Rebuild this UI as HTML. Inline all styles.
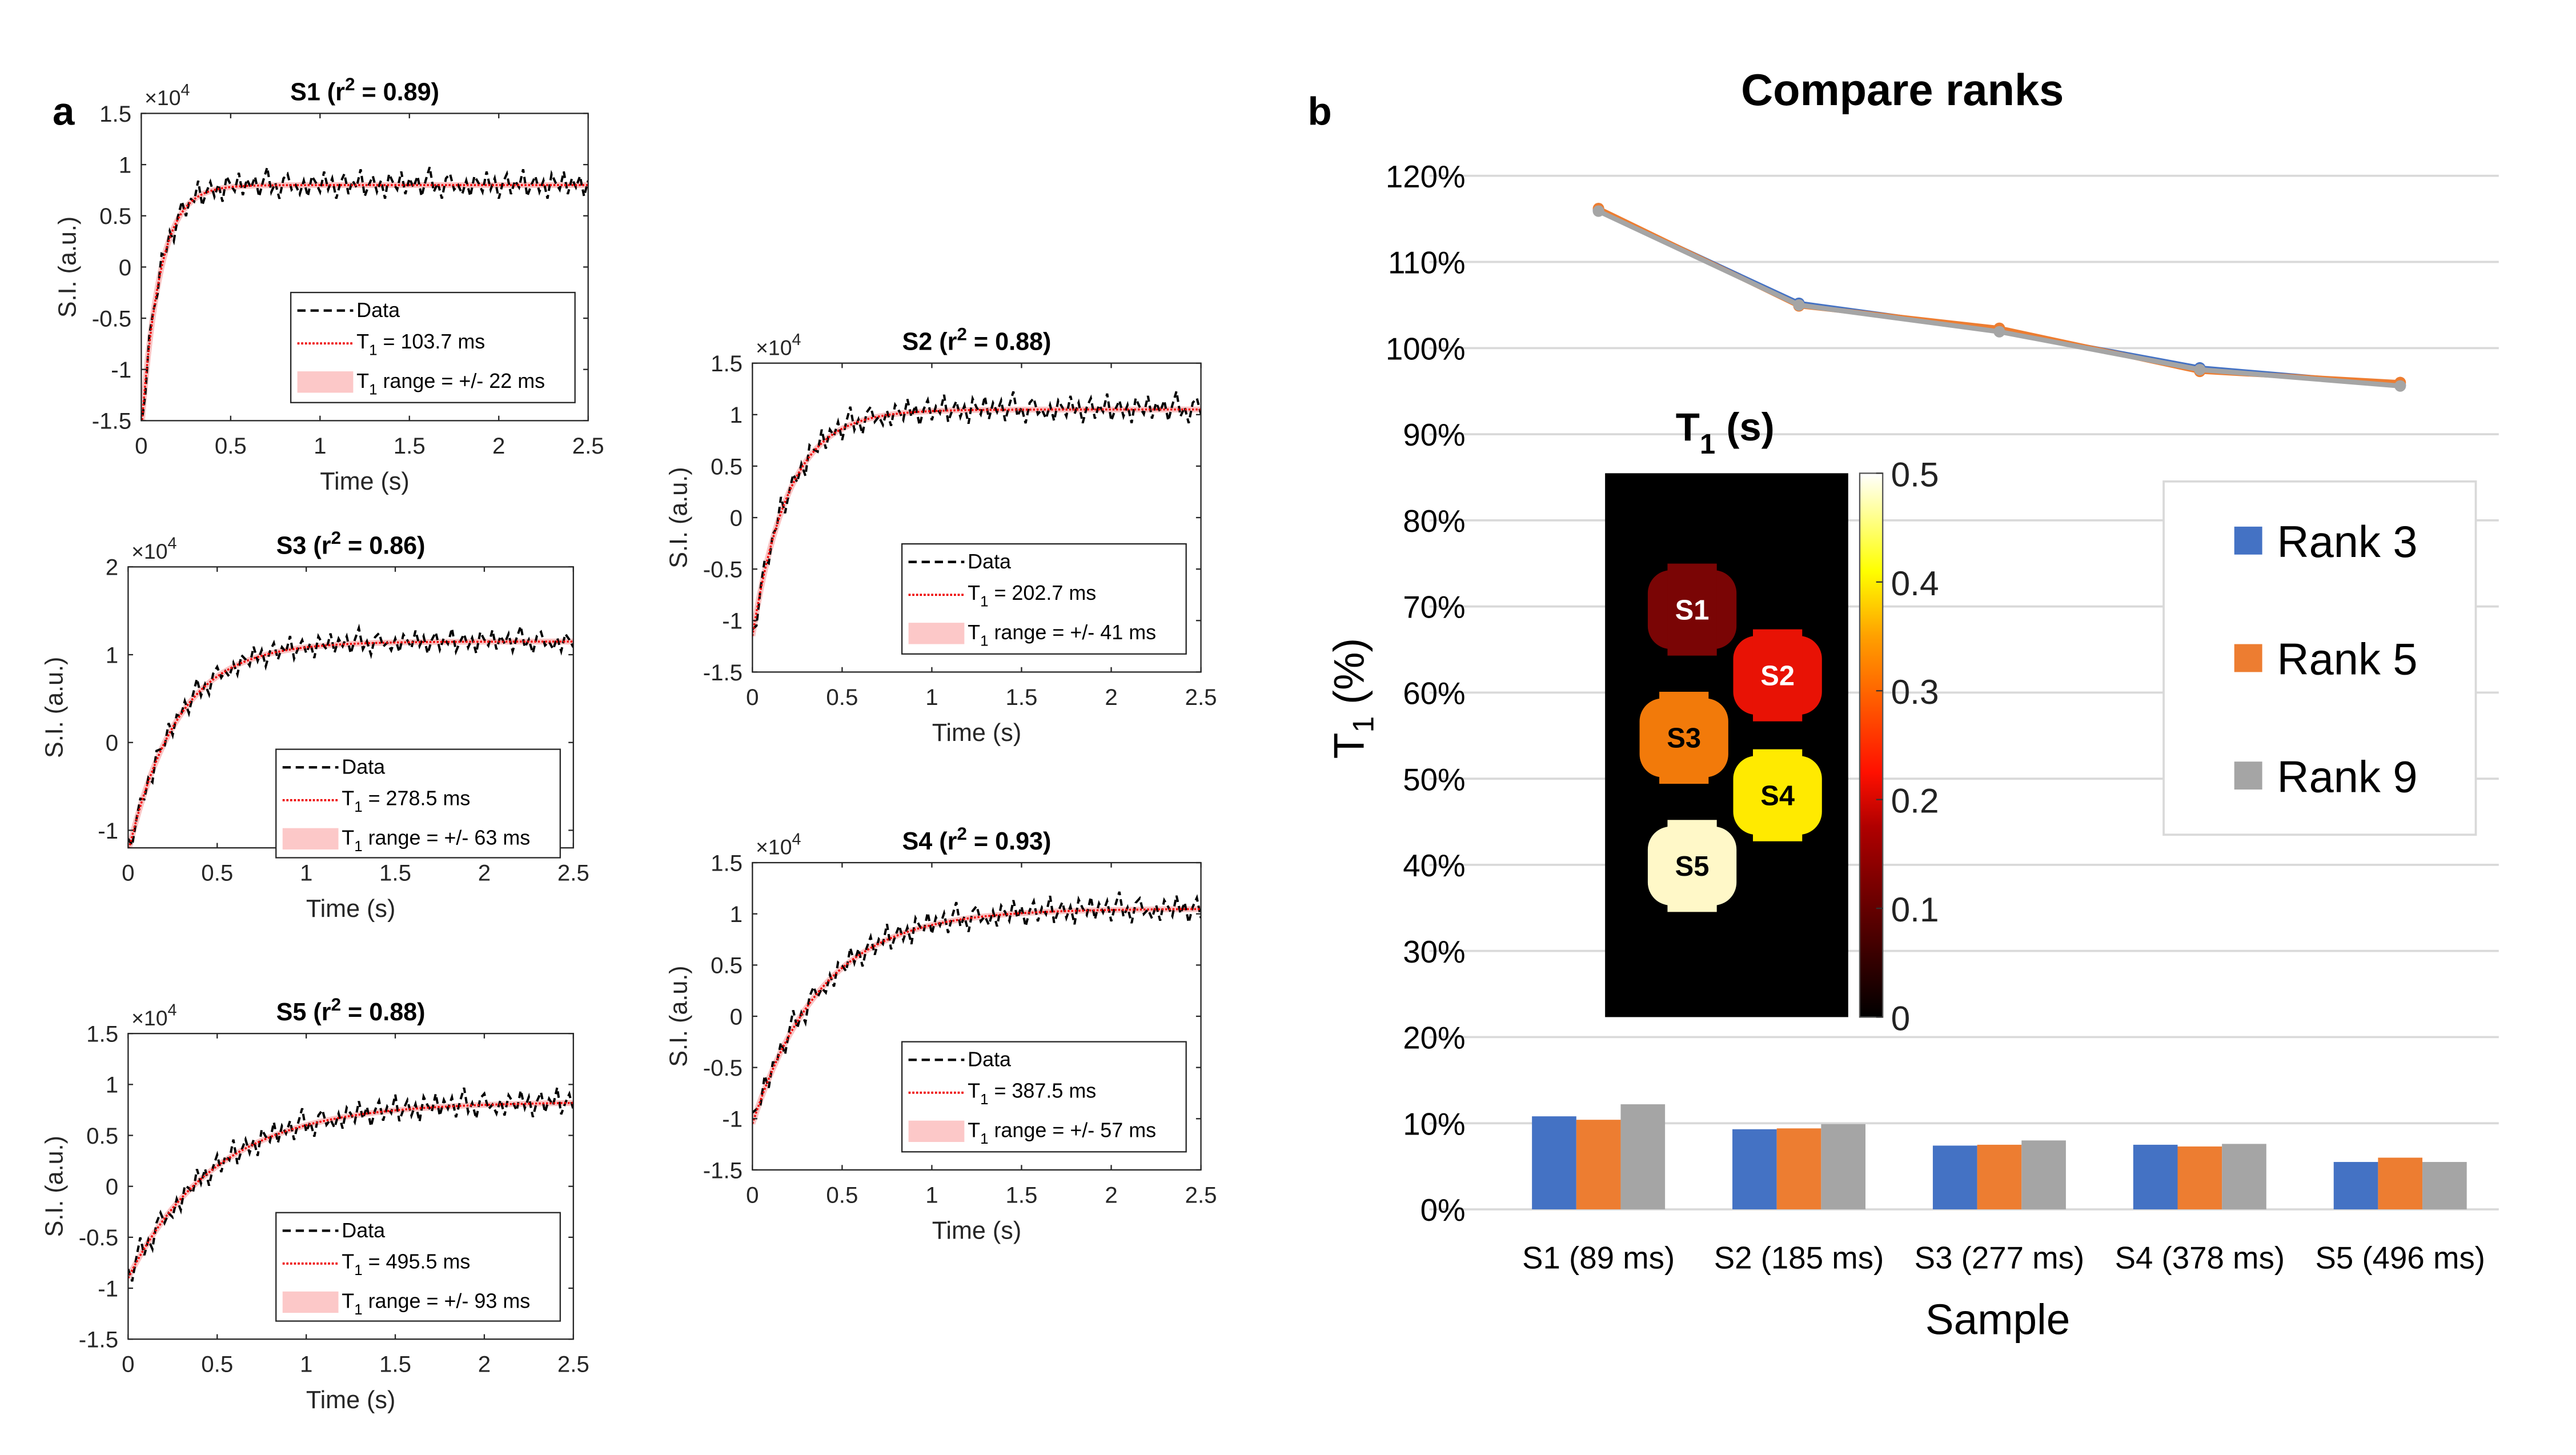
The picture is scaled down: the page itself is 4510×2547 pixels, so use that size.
<!DOCTYPE html>
<html><head><meta charset="utf-8"><style>
html,body{margin:0;padding:0;background:#fff;}
svg{display:block;font-family:"Liberation Sans",Arial,sans-serif;}
</style></head><body>
<svg id="fig" width="4510" height="2547" viewBox="0 0 1568 885.5" xmlns="http://www.w3.org/2000/svg">
<text x="32" y="76" font-size="24" font-weight="bold">a</text>
<text x="796" y="76" font-size="24" font-weight="bold">b</text>
<g id="left"></g>
<g id="right"></g>
</svg>
<script>
// ---------- Panel (a) data ----------
const panelNames = ["S1","S2","S3","S4","S5"];
const panelR2 = ["0.89","0.88","0.86","0.93","0.88"];
const panelT1ms = [103.7, 202.7, 278.5, 387.5, 495.5];
const panelRangeMs = [22, 41, 63, 57, 93];
const panelPlateau = [0.8, 1.05, 1.15, 1.05, 0.83];
const panelStart = [-1.6, -1.15, -1.25, -1.05, -0.9];
const panelYMin = [-1.5, -1.5, -1.2, -1.5, -1.5];
const panelYMax = [1.5, 1.5, 2, 1.5, 1.5];
const noise = [0.02,-0.05,0.04,0.01,-0.03,0.06,-0.02,0.03,-0.06,0.01,0.05,-0.04,0.02,-0.01,0.07,-0.05,0.0,0.04,-0.03,0.02,
               -0.06,0.05,0.01,-0.02,0.06,-0.04,0.03,-0.01,0.04,-0.05,0.02,0.08,-0.03,0.01,-0.06,0.03,0.05,-0.02,0.0,-0.04];

// ---------- Panel (b) data ----------
const categories = ["S1 (89 ms)","S2 (185 ms)","S3 (277 ms)","S4 (378 ms)","S5 (496 ms)"];
const seriesNames = ["Rank 3","Rank 5","Rank 9"];
const barRank3 = [10.8, 9.3, 7.4, 7.5, 5.5];
const barRank5 = [10.4, 9.4, 7.5, 7.3, 6.0];
const barRank9 = [12.2, 9.9, 8.0, 7.6, 5.5];
const lineRank3 = [116.0, 105.2, 102.0, 97.7, 95.7];
const lineRank5 = [116.2, 104.9, 102.3, 97.3, 96.0];
const lineRank9 = [115.9, 105.0, 101.9, 97.5, 95.6];
const yTickLabels = ["0%","10%","20%","30%","40%","50%","60%","70%","80%","90%","100%","110%","120%"];
const yTickValues = [0,10,20,30,40,50,60,70,80,90,100,110,120];
const cbTicks = [0,0.1,0.2,0.3,0.4,0.5];

const NS="http://www.w3.org/2000/svg";
function mk(tag, attrs, parent, text){
  const e=document.createElementNS(NS,tag);
  for(const k in attrs) e.setAttribute(k,attrs[k]);
  if(text!==undefined) e.textContent=text;
  parent.appendChild(e); return e;
}

// ---------- Panel (a) ----------
const left=document.getElementById('left');
const layout=[
 {x0:86,x1:358,y0:69,y1:256, lg:[177,178,173,67], yt:[-1.5,-1,-0.5,0,0.5,1,1.5], tl:["-1.5","-1","-0.5","0","0.5","1","1.5"]},
 {x0:458,x1:731,y0:221,y1:409, lg:[549,331,173,67], yt:[-1.5,-1,-0.5,0,0.5,1,1.5], tl:["-1.5","-1","-0.5","0","0.5","1","1.5"]},
 {x0:78,x1:349,y0:345,y1:516, lg:[168,456,173,66], yt:[-1,0,1,2], tl:["-1","0","1","2"]},
 {x0:458,x1:731,y0:525,y1:712, lg:[549,634,173,67], yt:[-1.5,-1,-0.5,0,0.5,1,1.5], tl:["-1.5","-1","-0.5","0","0.5","1","1.5"]},
 {x0:78,x1:349,y0:629,y1:815, lg:[168,738,173,66], yt:[-1.5,-1,-0.5,0,0.5,1,1.5], tl:["-1.5","-1","-0.5","0","0.5","1","1.5"]}
];
const xt=[0,0.5,1,1.5,2,2.5], xtl=["0","0.5","1","1.5","2","2.5"];
panelNames.forEach((nm,i)=>{
  const L=layout[i];
  const g=mk('g',{},left);
  
  
  const X=t=>L.x0+(t/2.5)*(L.x1-L.x0);
  const Y=v=>L.y1-(v-panelYMin[i])/(panelYMax[i]-panelYMin[i])*(L.y1-L.y0);
  const T=panelT1ms[i]/1000;
  const fit=t=>panelPlateau[i]-(panelPlateau[i]-panelStart[i])*Math.exp(-t/T);
  const clipId='clip'+i;
  const cp=mk('clipPath',{id:clipId},g); mk('rect',{x:L.x0,y:L.y0,width:L.x1-L.x0,height:L.y1-L.y0},cp);
  mk('rect',{x:L.x0,y:L.y0,width:L.x1-L.x0,height:L.y1-L.y0,fill:'#fff',stroke:'none'},g);
  let fp='';
  for(let k=0;k<=200;k++){const t=2.5*k/200; fp+=(k?'L':'M')+X(t).toFixed(2)+','+Y(fit(t)).toFixed(2);}
  const cg=mk('g',{'clip-path':'url(#'+clipId+')'},g);
  const band=mk('path',{d:fp,fill:'none',stroke:'#f9c4c4','stroke-width':3.5},cg);
  
  
  let dp='';
  for(let k=0;k<=110;k++){const t=2.5*k/110; const v=fit(t)+noise[(k+i*7)%noise.length]*2.2; dp+=(k?'L':'M')+X(t).toFixed(2)+','+Y(v).toFixed(2);}
  const dl=mk('path',{d:dp,fill:'none',stroke:'#000','stroke-width':1.4,'stroke-dasharray':'4,2.5'},cg);
  
  
  const fl=mk('path',{d:fp,fill:'none',stroke:'#e00','stroke-width':1.2,'stroke-dasharray':'1.2,1'},cg);
  
  
  mk('rect',{x:L.x0,y:L.y0,width:L.x1-L.x0,height:L.y1-L.y0,fill:'none',stroke:'#262626','stroke-width':0.8},g);
  xt.forEach((t,k)=>{
    mk('line',{x1:X(t),x2:X(t),y1:L.y1,y2:L.y1-3,stroke:'#262626','stroke-width':0.8},g);
    mk('line',{x1:X(t),x2:X(t),y1:L.y0,y2:L.y0+3,stroke:'#262626','stroke-width':0.8},g);
    mk('text',{x:X(t),y:L.y1+20,'font-size':14,'text-anchor':'middle',fill:'#262626'},g,xtl[k]);
  });
  L.yt.forEach((v,k)=>{
    mk('line',{x1:L.x0,x2:L.x0+3,y1:Y(v),y2:Y(v),stroke:'#262626','stroke-width':0.8},g);
    mk('line',{x1:L.x1,x2:L.x1-3,y1:Y(v),y2:Y(v),stroke:'#262626','stroke-width':0.8},g);
    mk('text',{x:L.x0-6,y:Y(v)+5,'font-size':14,'text-anchor':'end',fill:'#262626'},g,L.tl[k]);
  });
  const xe=mk('text',{x:L.x0+2,y:L.y0-5,'font-size':13,fill:'#262626'},g,'×10');
  mk('tspan',{dy:-6,'font-size':10},xe,'4');
  const xl=mk('text',{x:(L.x0+L.x1)/2,y:L.y1+42,'font-size':15,'text-anchor':'middle',fill:'#262626'},g,'Time (s)');
  
  
  const yl=mk('text',{x:0,y:0,'font-size':15,'text-anchor':'middle',fill:'#262626',transform:'translate('+(L.x0-40)+','+((L.y0+L.y1)/2)+') rotate(-90)'},g,'S.I. (a.u.)');
  
  
  const tt=mk('text',{x:(L.x0+L.x1)/2,y:L.y0-8,'font-size':15,'font-weight':'bold','text-anchor':'middle'},g,nm+' (r');
  mk('tspan',{dy:-6,'font-size':11},tt,'2');
  mk('tspan',{dy:6},tt,' = '+panelR2[i]+')');
  
  
  const [lx,ly,lw,lh]=L.lg;
  const lg=mk('g',{},g);
  
  
  mk('rect',{x:lx,y:ly,width:lw,height:lh,fill:'#fff',stroke:'#262626','stroke-width':0.8},lg);
  mk('line',{x1:lx+4,x2:lx+38,y1:ly+11,y2:ly+11,stroke:'#000','stroke-width':1.5,'stroke-dasharray':'5,3'},lg);
  mk('text',{x:lx+40,y:ly+15,'font-size':12.5},lg,'Data');
  mk('line',{x1:lx+4,x2:lx+38,y1:ly+31,y2:ly+31,stroke:'#e00','stroke-width':1.3,'stroke-dasharray':'1.3,1'},lg);
  const t1=mk('text',{x:lx+40,y:ly+34,'font-size':12.5},lg,'T');
  mk('tspan',{dy:4,'font-size':9},t1,'1');
  mk('tspan',{dy:-4},t1,' = '+panelT1ms[i].toFixed(1)+' ms');
  mk('rect',{x:lx+4,y:ly+48,width:34,height:13,fill:'#fcc8c8'},lg);
  const t2=mk('text',{x:lx+40,y:ly+58,'font-size':12.5},lg,'T');
  mk('tspan',{dy:4,'font-size':9},t2,'1');
  mk('tspan',{dy:-4},t2,' range = +/- '+panelRangeMs[i]+' ms');
});

// ---------- Panel (b) ----------
const right=document.getElementById('right');
const px0=870, px1=1521, py0=736, pyTop=107;
const Yb=v=>py0-(v/120)*(py0-pyTop);
const step=122, firstC=973;
const Xc=i=>firstC+i*step;
const colors=["#4472c4","#ed7d31","#a5a5a5"];
yTickValues.forEach((v,k)=>{
  const gl=mk('line',{x1:px0,x2:px1,y1:Yb(v),y2:Yb(v),stroke:'#d9d9d9','stroke-width':1.3},right);
  
  
  const tl=mk('text',{x:892,y:Yb(v)+7,'font-size':19,'text-anchor':'end',fill:'#000'},right,yTickLabels[k]);
  
  
});
const title=mk('text',{x:1158,y:64,'font-size':27,'font-weight':'bold','text-anchor':'middle'},right,'Compare ranks');


const bars=[barRank3,barRank5,barRank9];
const bw=27;
categories.forEach((c,i)=>{
  bars.forEach((s,j)=>{
    const b=mk('rect',{x:Xc(i)-1.5*bw+j*bw,y:Yb(s[i]),width:bw,height:py0-Yb(s[i]),fill:colors[j]},right);
    
    
  });
  const cl=mk('text',{x:Xc(i),y:772,'font-size':19,'text-anchor':'middle'},right,c);
  
  
});
[lineRank3,lineRank5,lineRank9].forEach((s,j)=>{
  const d=s.map((v,i)=>(i?'L':'M')+Xc(i)+','+Yb(v).toFixed(2)).join('');
  const p=mk('path',{d:d,fill:'none',stroke:colors[j],'stroke-width':3,'stroke-linejoin':'round'},right);
  
  
  s.forEach((v,i)=>{
    const m=mk('circle',{cx:Xc(i),cy:Yb(v),r:3.5,fill:colors[j]},right);
    
    
  });
});
const yt=mk('text',{x:0,y:0,'font-size':26,'text-anchor':'middle',transform:'translate(830,425) rotate(-90)'},right,'T');
mk('tspan',{dy:6,'font-size':18},yt,'1');
mk('tspan',{dy:-6},yt,' (%)');


const xtt=mk('text',{x:1216,y:812,'font-size':26,'text-anchor':'middle'},right,'Sample');


const leg=mk('g',{},right);


mk('rect',{x:1317,y:293,width:190,height:215,fill:'#fff',stroke:'#d9d9d9','stroke-width':1.3},leg);
seriesNames.forEach((n,j)=>{
  const yy=329+j*71.5;
  mk('rect',{x:1360,y:yy-8.5,width:17,height:17,fill:colors[j]},leg);
  const lt=mk('text',{x:1386,y:yy+10,'font-size':27},leg,n);
  
  
});
const inset=mk('g',{},right);


const it=mk('text',{x:1020,y:268,'font-size':24,'font-weight':'bold'},inset,'T');
mk('tspan',{dy:8,'font-size':17},it,'1');
mk('tspan',{dy:-8},it,' (s)');
mk('rect',{x:977,y:288,width:148,height:331,fill:'#000'},inset);
const spots=[[1030,371,'#7a0505','S1','#fff'],[1082,411,'#e81205','S2','#fff'],[1025,449,'#f27a0a','S3','#000'],[1082,484,'#ffea00','S4','#000'],[1030,527,'#fff8c8','S5','#000']];
spots.forEach(s=>{
  const c=mk('rect',{x:s[0]-27,y:s[1]-24,width:54,height:48,rx:14,fill:s[2]},inset);
  
  
  mk('rect',{x:s[0]-15,y:s[1]-28,width:30,height:56,fill:s[2]},inset);
  mk('text',{x:s[0],y:s[1]+6,'font-size':17,'font-weight':'bold','text-anchor':'middle',fill:s[4]},inset,s[3]);
});
const defs=mk('defs',{},inset);
const lgd=mk('linearGradient',{id:'hot',x1:0,y1:1,x2:0,y2:0},defs);
[['0','#000'],['0.35','#b00000'],['0.45','#ff1000'],['0.7','#ffa000'],['0.82','#ffff00'],['1','#ffffff']].forEach(s=>mk('stop',{offset:s[0],'stop-color':s[1]},lgd));
const cb=mk('rect',{x:1132,y:288,width:14,height:331,fill:'url(#hot)',stroke:'#555','stroke-width':0.8},inset);


cbTicks.forEach(v=>{
  const yy=619-(v/0.5)*331;
  mk('line',{x1:1142,x2:1146,y1:yy,y2:yy,stroke:'#333','stroke-width':0.8},inset);
  mk('text',{x:1151,y:yy+8,'font-size':21,fill:'#222'},inset,String(v));
});
</script>
</body></html>
